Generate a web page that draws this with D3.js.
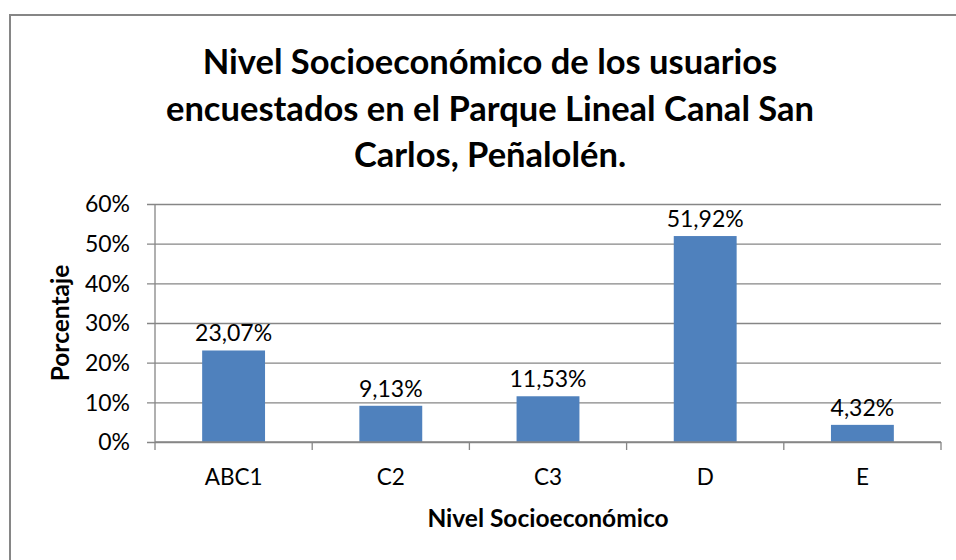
<html>
<head>
  <style>
    body { margin: 0; background: #ffffff; }
    svg text { font-family: Lato, 'Open Sans', sans-serif; fill: #000; }
  </style>
  <script src="https://d3js.org/d3.v7.min.js"></script>
</head>
<body>
<script>
  // data
  const categories = ['ABC1', 'C2', 'C3', 'D', 'E'];
  const values = [23.07, 9.13, 11.53, 51.92, 4.32];
  const valueLabels = ['23,07%', '9,13%', '11,53%', '51,92%', '4,32%'];
  const yTicks = [0, 10, 20, 30, 40, 50, 60];
  const titleLines = ['Nivel Socioeconómico de los usuarios',
                      'encuestados en el Parque Lineal Canal San',
                      'Carlos, Peñalolén.'];

  const W = 956, H = 560;
  const svg = d3.select('body').append('svg')
    .attr('width', W).attr('height', H);

  // chart frame, runs off the right and bottom edge
  svg.append('rect')
    .attr('x', 10).attr('y', 15)
    .attr('width', 970).attr('height', 570)
    .attr('fill', 'none')
    .attr('stroke', '#868686')
    .attr('stroke-width', 2);

  const plot = { left: 155, right: 941, top: 204, bottom: 442 };

  const x = d3.scaleBand()
    .domain(categories)
    .range([plot.left, plot.right])
    .paddingInner(0.6)
    .paddingOuter(0.3);
  const xCat = d3.scaleBand().domain(categories).range([plot.left, plot.right]);
  const y = d3.scaleLinear().domain([0, 60]).range([plot.bottom, plot.top]);

  // gridlines + y ticks
  const gy = svg.append('g')
    .attr('transform', `translate(${plot.left},0)`)
    .call(d3.axisLeft(y).tickValues(yTicks)
      .tickSize(-(plot.right - plot.left)).tickSizeOuter(0)
      .tickFormat(d => d + '%'));
  gy.select('.domain').remove();
  gy.selectAll('.tick line')
    .attr('x1', -8)
    .attr('stroke', '#868686')
    .attr('stroke-width', 1.3);
  gy.selectAll('.tick text')
    .attr('x', -25)
    .attr('dy', '0.34em')
    .style('font-size', '23px');

  // y axis line
  svg.append('line')
    .attr('x1', plot.left).attr('x2', plot.left)
    .attr('y1', plot.top).attr('y2', plot.bottom)
    .attr('stroke', '#868686').attr('stroke-width', 1.3);

  // bars
  svg.selectAll('.bar')
    .data(values)
    .join('rect')
    .attr('class', 'bar')
    .attr('x', (d, i) => x(categories[i]))
    .attr('width', x.bandwidth())
    .attr('y', d => y(d))
    .attr('height', d => y(0) - y(d))
    .attr('fill', '#4F81BD');

  // value labels
  svg.selectAll('.vlabel')
    .data(values)
    .join('text')
    .attr('class', 'vlabel')
    .attr('x', (d, i) => x(categories[i]) + x.bandwidth() / 2)
    .attr('y', d => y(d) - 9)
    .attr('text-anchor', 'middle')
    .style('font-size', '23px')
    .text((d, i) => valueLabels[i]);

  // x axis with ticks on category boundaries
  svg.append('line')
    .attr('x1', plot.left).attr('x2', plot.right)
    .attr('y1', plot.bottom).attr('y2', plot.bottom)
    .attr('stroke', '#868686').attr('stroke-width', 1.3);
  const bounds = categories.map(c => xCat(c)).concat([plot.right]);
  svg.selectAll('.xtick')
    .data(bounds)
    .join('line')
    .attr('class', 'xtick')
    .attr('x1', d => d).attr('x2', d => d)
    .attr('y1', plot.bottom).attr('y2', plot.bottom + 8)
    .attr('stroke', '#868686').attr('stroke-width', 1.3);
  svg.selectAll('.xlabel')
    .data(categories)
    .join('text')
    .attr('class', 'xlabel')
    .attr('x', d => xCat(d) + xCat.bandwidth() / 2)
    .attr('y', 485)
    .attr('text-anchor', 'middle')
    .style('font-size', '22.5px')
    .text(d => d);

  // axis titles
  svg.append('text')
    .attr('x', (plot.left + plot.right) / 2)
    .attr('y', 527)
    .attr('text-anchor', 'middle')
    .style('font-size', '24.5px').style('font-weight', 'bold')
    .text('Nivel Socioeconómico');
  svg.append('text')
    .attr('transform', `translate(69,${(plot.top + plot.bottom) / 2}) rotate(-90)`)
    .attr('text-anchor', 'middle')
    .style('font-size', '24.5px').style('font-weight', 'bold')
    .text('Porcentaje');

  // title
  svg.append('g').selectAll('text')
    .data(titleLines)
    .join('text')
    .attr('x', 490)
    .attr('y', (d, i) => 74 + i * 46.5)
    .attr('text-anchor', 'middle')
    .style('font-size', '34.5px').style('font-weight', 'bold')
    .text(d => d);
</script>
</body>
</html>
